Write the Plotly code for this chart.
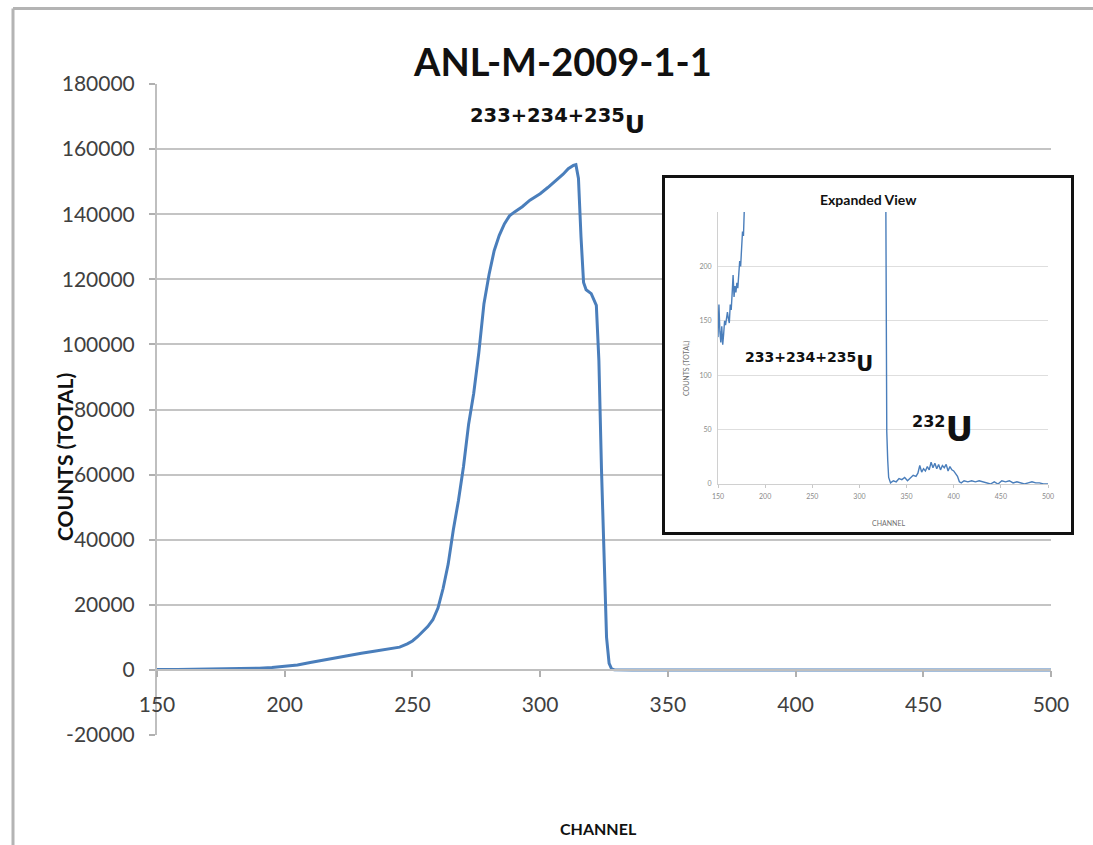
import plotly.graph_objects as go

# ---------------- data ----------------
channel = [150, 151, 152, 153, 154, 155, 156, 157, 158, 159, 160, 161, 162, 163, 164,
           165, 166, 167, 168, 169, 170, 171, 172, 173, 174, 175, 176, 177, 178, 179, 180,
           182, 185, 190, 195, 200, 205, 210, 215, 220, 225, 230, 235, 240, 245, 248,
           250, 252, 254, 256, 258, 260, 262, 264, 266, 268, 270, 272, 274, 276, 278,
           280, 282, 284, 286, 288, 290, 293, 296, 300, 303, 306, 309, 311, 313, 314,
           315, 316, 317, 318, 320, 322, 323, 324, 325, 326, 327, 328, 329, 330, 331,
           333, 336, 339, 342, 345, 348, 351, 354, 357, 360, 362, 364, 366, 368, 370,
           372, 374, 376, 378, 380, 382, 384, 386, 388, 390, 392, 394, 396, 398, 400,
           402, 404, 406, 408, 411, 415, 419, 423, 427, 431, 435, 439, 443, 447, 451,
           455, 459, 463, 467, 471, 475, 479, 483, 487, 491, 495, 500]

counts = [135, 165, 140, 130, 145, 128, 138, 150, 146, 155, 158, 152, 148, 165, 160,
          175, 192, 172, 182, 176, 185, 180, 196, 205, 200, 218, 232, 228, 244, 252, 268,
          310, 380, 520, 720, 1050, 1500, 2300, 3000, 3800, 4600, 5100, 5700, 6300, 7000, 8000,
          8900, 10200, 11600, 13300, 15400, 19000, 25000, 32500, 43000, 52000, 62500, 75500, 85000, 97500, 112500,
          121500, 128800, 133500, 137000, 139500, 140700, 142300, 144300, 146300, 148200, 150200, 152300, 154000, 155000, 155200,
          151000, 133000, 119000, 116800, 115600, 112000, 95000, 62000, 33000, 10000, 2000, 260, 48, 22, 6,
          1, 3, 2, 5, 4, 6, 3, 6, 8, 7, 10, 17, 11, 14, 12,
          16, 13, 20, 15, 19, 14, 18, 13, 17, 15, 18, 12, 16, 13, 12,
          9, 7, 2, 1, 3, 2, 3, 2, 3, 2, 1, 0, 2, 0, 3,
          2, 3, 1, 2, 1, 0, 1, 2, 1, 1, 0, 0]

x_ticks = [150, 200, 250, 300, 350, 400, 450, 500]
y_ticks = [-20000, 0, 20000, 40000, 60000, 80000, 100000, 120000, 140000, 160000, 180000]
y_tick_text = ["-20000", "0", "20000", "40000", "60000", "80000", "100000",
               "120000", "140000", "160000", "180000"]
inset_y_ticks = [0, 50, 100, 150, 200]

title_text = "ANL-M-2009-1-1"
peak_mass = "233+234+235"
u232_mass = "232"
element = "U"

# ---------------- figure ----------------
FONT = "Lato, 'Open Sans', sans-serif"
LABEL_FONT = "'DejaVu Sans', sans-serif"
BLUE = "#4a7ebb"
GRID = "#c4c4c4"

W, H = 1093, 845
L, R, T, B = 157, 20, 84, 110
PW = W - L - R          # paper width in px
PH = H - T - B          # paper height in px


def px(xp):
    return (xp - L) / PW


def py(yp):
    return (H - B - yp) / PH


def isotope(mass, size):
    return (f"<b><sup><span style='font-size:{size}px;font-weight:bold'>{mass}</span></sup>"
            f"{element}</b>")


fig = go.Figure()

fig.add_trace(go.Scatter(x=channel, y=counts, mode="lines",
                         line=dict(color=BLUE, width=3),
                         xaxis="x", yaxis="y", showlegend=False, hoverinfo="skip"))
# empty trace so that the inset frame subplot exists
fig.add_trace(go.Scatter(x=[], y=[], xaxis="x2", yaxis="y2", showlegend=False))
fig.add_trace(go.Scatter(x=channel, y=counts, mode="lines",
                         line=dict(color=BLUE, width=1.4),
                         xaxis="x3", yaxis="y3", showlegend=False, hoverinfo="skip"))

fig.update_layout(
    width=W, height=H, autosize=False,
    margin=dict(l=L, r=R, t=T, b=B, pad=0, autoexpand=False),
    paper_bgcolor="white", plot_bgcolor="white",
    font=dict(family=FONT, color="#404040"),
    showlegend=False,
    xaxis=dict(domain=[0, px(1051)], range=[150, 500], anchor="free", position=0.1,
               tickvals=x_ticks, ticks="outside", ticklen=6, tickwidth=1.5,
               tickcolor="#b0b0b0", showline=True, linecolor="#bfbfbf", linewidth=2,
               showgrid=False, zeroline=False, tickfont=dict(size=21, color="#404040"),
               ticklabelstandoff=10, automargin=False),
    yaxis=dict(domain=[0, 1], range=[-20000, 180000], tickvals=y_ticks, ticktext=y_tick_text,
               ticks="outside", ticklen=6, tickwidth=1.5, tickcolor="#b0b0b0",
               showline=True, linecolor="#bfbfbf", linewidth=2,
               showgrid=True, gridcolor=GRID, gridwidth=2, zeroline=False,
               tickfont=dict(size=21, color="#404040"), ticklabelstandoff=10, anchor="x",
               automargin=False),
    # inset frame
    xaxis2=dict(domain=[px(665), px(1071)], range=[0, 1], anchor="y2", showline=True,
                mirror=True, linecolor="#111111", linewidth=2.5, showgrid=False,
                zeroline=False, showticklabels=False, ticks="", automargin=False),
    yaxis2=dict(domain=[py(532), py(178)], range=[0, 1], anchor="x2", showline=True,
                mirror=True, linecolor="#111111", linewidth=2.5, showgrid=False,
                zeroline=False, showticklabels=False, ticks="", automargin=False),
    # inset plot
    xaxis3=dict(domain=[px(718), px(1048)], range=[150, 500], anchor="y3",
                tickvals=x_ticks, ticks="outside", ticklen=3, tickcolor="#c8c8c8",
                showline=True, linecolor="#d0d0d0", linewidth=1, showgrid=False,
                zeroline=False, tickfont=dict(size=7, color="#8a8a8a"), ticklabelstandoff=3,
                automargin=False),
    yaxis3=dict(domain=[py(484), py(212)], range=[0, 250], anchor="x3",
                tickvals=inset_y_ticks, ticks="", showline=True, linecolor="#d0d0d0",
                linewidth=1, showgrid=True, gridcolor="#dedede", gridwidth=1,
                zeroline=False, tickfont=dict(size=7, color="#8a8a8a"), ticklabelstandoff=4,
                automargin=False),
)

ann = [
    dict(text=f"<b>{title_text}</b>", x=px(562), y=py(61), font=dict(size=38, color="#111111")),
    dict(text="<b>COUNTS (TOTAL)</b>", x=px(64), y=py(457), textangle=-90,
         font=dict(size=21, color="#111111")),
    dict(text="<b>CHANNEL</b>", x=px(598), y=py(828), font=dict(size=16, color="#111111")),
    dict(text=isotope(peak_mass, 19.5), x=px(557), y=py(121),
         font=dict(size=25, color="#111111", family=LABEL_FONT)),
    dict(text="<b>Expanded View</b>", x=px(868), y=py(199), font=dict(size=14, color="#111111")),
    dict(text="COUNTS (TOTAL)", x=px(686), y=py(368), textangle=-90,
         font=dict(size=7, color="#707070")),
    dict(text="CHANNEL", x=px(888), y=py(523), font=dict(size=7, color="#707070")),
    dict(text=isotope(peak_mass, 14), x=px(809), y=py(362),
         font=dict(size=21, color="#111111", family=LABEL_FONT)),
    dict(text=isotope(u232_mass, 16), x=px(942), y=py(429),
         font=dict(size=34, color="#111111", family=LABEL_FONT)),
]
for a in ann:
    a.update(xref="paper", yref="paper", showarrow=False, xanchor="center", yanchor="middle")
    fig.add_annotation(**a)

# outer frame (left and top edges visible)
fig.add_shape(type="line", xref="paper", yref="paper",
              x0=px(13), x1=px(13), y0=py(845), y1=py(8.5),
              line=dict(color="#b4b4b4", width=3), layer="below")
fig.add_shape(type="line", xref="paper", yref="paper",
              x0=px(13), x1=px(1093), y0=py(8.5), y1=py(8.5),
              line=dict(color="#b4b4b4", width=3), layer="below")

fig.write_html("out.html")
